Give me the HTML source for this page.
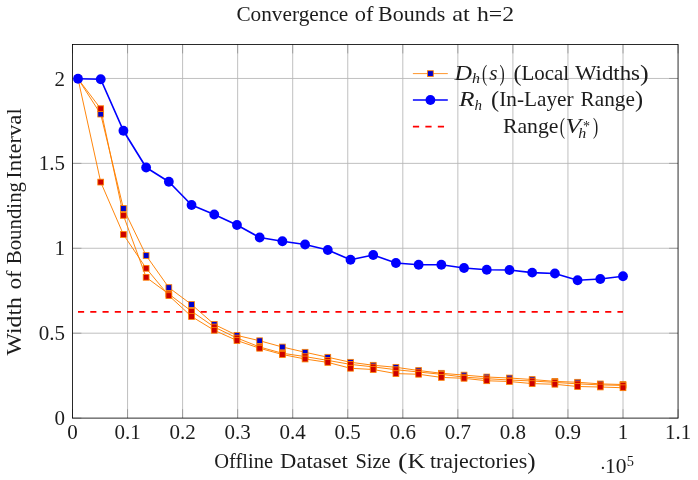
<!DOCTYPE html>
<html><head><meta charset="utf-8"><title>Convergence of Bounds at h=2</title>
<style>html,body{margin:0;padding:0;background:#fff;width:698px;height:480px;overflow:hidden;font-family:"Liberation Serif",serif}</style>
</head><body>
<svg width="698" height="480" viewBox="0 0 698 480" style="display:block;position:absolute;left:0;top:0">
<rect x="0" y="0" width="698" height="480" fill="#ffffff"/>
<path d="M127.55 44.50V418.10M182.60 44.50V418.10M237.65 44.50V418.10M292.70 44.50V418.10M347.75 44.50V418.10M402.80 44.50V418.10M457.85 44.50V418.10M512.90 44.50V418.10M567.95 44.50V418.10M623.00 44.50V418.10M72.50 333.19H678.05M72.50 248.28H678.05M72.50 163.37H678.05M72.50 78.46H678.05" stroke="#b6b6b6" stroke-width="0.86" fill="none"/>
<path d="M72.50 418.10v-8.9M72.50 44.50v8.9M127.55 418.10v-8.9M127.55 44.50v8.9M182.60 418.10v-8.9M182.60 44.50v8.9M237.65 418.10v-8.9M237.65 44.50v8.9M292.70 418.10v-8.9M292.70 44.50v8.9M347.75 418.10v-8.9M347.75 44.50v8.9M402.80 418.10v-8.9M402.80 44.50v8.9M457.85 418.10v-8.9M457.85 44.50v8.9M512.90 418.10v-8.9M512.90 44.50v8.9M567.95 418.10v-8.9M567.95 44.50v8.9M623.00 418.10v-8.9M623.00 44.50v8.9M678.05 418.10v-8.9M678.05 44.50v8.9M72.50 418.10h8.9M678.05 418.10h-8.9M72.50 333.19h8.9M678.05 333.19h-8.9M72.50 248.28h8.9M678.05 248.28h-8.9M72.50 163.37h8.9M678.05 163.37h-8.9M72.50 78.46h8.9M678.05 78.46h-8.9" stroke="#787878" stroke-width="0.55" fill="none"/>
<polyline points="78.00,78.75 100.71,114.10 123.42,208.50 146.13,255.50 168.84,287.60 191.55,304.50 214.25,324.40 236.96,335.40 259.67,340.75 282.38,347.00 305.09,352.25 327.79,357.25 350.50,362.25 373.21,365.25 395.92,367.30 418.63,370.50 441.33,373.25 464.04,375.10 486.75,377.00 509.46,378.00 532.17,379.50 554.88,381.40 577.58,382.25 600.29,383.90 623.00,384.50" fill="none" stroke="#ff8000" stroke-width="0.95" stroke-linejoin="round"/>
<polyline points="78.00,78.75 100.71,108.70 123.42,215.40 146.13,277.30 168.84,294.05 191.55,311.25 214.25,327.00 236.96,338.00 259.67,347.00 282.38,353.25 305.09,356.60 327.79,360.40 350.50,364.40 373.21,366.90 395.92,369.70 418.63,372.00 441.33,374.30 464.04,377.10 486.75,378.70 509.46,380.00 532.17,381.00 554.88,382.40 577.58,383.85 600.29,384.90 623.00,385.40" fill="none" stroke="#ff8000" stroke-width="0.95" stroke-linejoin="round"/>
<polyline points="78.00,78.75 100.71,182.10 123.42,234.50 146.13,268.30 168.84,295.60 191.55,316.50 214.25,330.30 236.96,340.50 259.67,348.25 282.38,354.50 305.09,359.00 327.79,362.40 350.50,368.25 373.21,369.50 395.92,373.60 418.63,374.25 441.33,377.40 464.04,378.30 486.75,380.75 509.46,381.50 532.17,383.60 554.88,384.25 577.58,386.50 600.29,387.00 623.00,387.75" fill="none" stroke="#ff8000" stroke-width="0.95" stroke-linejoin="round"/>
<polyline points="78.00,78.75 100.71,79.25 123.42,130.75 146.13,167.50 168.84,181.75 191.55,205.00 214.25,214.50 236.96,225.00 259.67,237.50 282.38,241.25 305.09,244.50 327.79,250.00 350.50,259.75 373.21,255.00 395.92,263.00 418.63,264.75 441.33,264.75 464.04,268.00 486.75,269.75 509.46,270.00 532.17,272.60 554.88,273.50 577.58,280.25 600.29,279.00 623.00,276.25" fill="none" stroke="#0000ff" stroke-width="1.66" stroke-linejoin="round"/>
<path d="M78.00 311.85H623.00" stroke="#ff0000" stroke-width="1.66" stroke-dasharray="6.13 6.13" fill="none"/>
<rect x="72.5" y="44.5" width="605.55" height="373.60" fill="none" stroke="#000" stroke-width="0.83"/>
<g fill="#0000cc" stroke="#ff8000" stroke-width="0.83"><rect x="75.10" y="75.85" width="5.8" height="5.8"/><rect x="97.81" y="111.20" width="5.8" height="5.8"/><rect x="120.52" y="205.60" width="5.8" height="5.8"/><rect x="143.23" y="252.60" width="5.8" height="5.8"/><rect x="165.94" y="284.70" width="5.8" height="5.8"/><rect x="188.65" y="301.60" width="5.8" height="5.8"/><rect x="211.35" y="321.50" width="5.8" height="5.8"/><rect x="234.06" y="332.50" width="5.8" height="5.8"/><rect x="256.77" y="337.85" width="5.8" height="5.8"/><rect x="279.48" y="344.10" width="5.8" height="5.8"/><rect x="302.19" y="349.35" width="5.8" height="5.8"/><rect x="324.89" y="354.35" width="5.8" height="5.8"/><rect x="347.60" y="359.35" width="5.8" height="5.8"/><rect x="370.31" y="362.35" width="5.8" height="5.8"/><rect x="393.02" y="364.40" width="5.8" height="5.8"/><rect x="415.73" y="367.60" width="5.8" height="5.8"/><rect x="438.43" y="370.35" width="5.8" height="5.8"/><rect x="461.14" y="372.20" width="5.8" height="5.8"/><rect x="483.85" y="374.10" width="5.8" height="5.8"/><rect x="506.56" y="375.10" width="5.8" height="5.8"/><rect x="529.27" y="376.60" width="5.8" height="5.8"/><rect x="551.98" y="378.50" width="5.8" height="5.8"/><rect x="574.68" y="379.35" width="5.8" height="5.8"/><rect x="597.39" y="381.00" width="5.8" height="5.8"/><rect x="620.10" y="381.60" width="5.8" height="5.8"/></g>
<g fill="#cc0000" stroke="#ff8000" stroke-width="0.83"><rect x="75.10" y="75.85" width="5.8" height="5.8"/><rect x="97.81" y="105.80" width="5.8" height="5.8"/><rect x="120.52" y="212.50" width="5.8" height="5.8"/><rect x="143.23" y="274.40" width="5.8" height="5.8"/><rect x="165.94" y="291.15" width="5.8" height="5.8"/><rect x="188.65" y="308.35" width="5.8" height="5.8"/><rect x="211.35" y="324.10" width="5.8" height="5.8"/><rect x="234.06" y="335.10" width="5.8" height="5.8"/><rect x="256.77" y="344.10" width="5.8" height="5.8"/><rect x="279.48" y="350.35" width="5.8" height="5.8"/><rect x="302.19" y="353.70" width="5.8" height="5.8"/><rect x="324.89" y="357.50" width="5.8" height="5.8"/><rect x="347.60" y="361.50" width="5.8" height="5.8"/><rect x="370.31" y="364.00" width="5.8" height="5.8"/><rect x="393.02" y="366.80" width="5.8" height="5.8"/><rect x="415.73" y="369.10" width="5.8" height="5.8"/><rect x="438.43" y="371.40" width="5.8" height="5.8"/><rect x="461.14" y="374.20" width="5.8" height="5.8"/><rect x="483.85" y="375.80" width="5.8" height="5.8"/><rect x="506.56" y="377.10" width="5.8" height="5.8"/><rect x="529.27" y="378.10" width="5.8" height="5.8"/><rect x="551.98" y="379.50" width="5.8" height="5.8"/><rect x="574.68" y="380.95" width="5.8" height="5.8"/><rect x="597.39" y="382.00" width="5.8" height="5.8"/><rect x="620.10" y="382.50" width="5.8" height="5.8"/></g>
<g fill="#cc0000" stroke="#ff8000" stroke-width="0.83"><rect x="75.10" y="75.85" width="5.8" height="5.8"/><rect x="97.81" y="179.20" width="5.8" height="5.8"/><rect x="120.52" y="231.60" width="5.8" height="5.8"/><rect x="143.23" y="265.40" width="5.8" height="5.8"/><rect x="165.94" y="292.70" width="5.8" height="5.8"/><rect x="188.65" y="313.60" width="5.8" height="5.8"/><rect x="211.35" y="327.40" width="5.8" height="5.8"/><rect x="234.06" y="337.60" width="5.8" height="5.8"/><rect x="256.77" y="345.35" width="5.8" height="5.8"/><rect x="279.48" y="351.60" width="5.8" height="5.8"/><rect x="302.19" y="356.10" width="5.8" height="5.8"/><rect x="324.89" y="359.50" width="5.8" height="5.8"/><rect x="347.60" y="365.35" width="5.8" height="5.8"/><rect x="370.31" y="366.60" width="5.8" height="5.8"/><rect x="393.02" y="370.70" width="5.8" height="5.8"/><rect x="415.73" y="371.35" width="5.8" height="5.8"/><rect x="438.43" y="374.50" width="5.8" height="5.8"/><rect x="461.14" y="375.40" width="5.8" height="5.8"/><rect x="483.85" y="377.85" width="5.8" height="5.8"/><rect x="506.56" y="378.60" width="5.8" height="5.8"/><rect x="529.27" y="380.70" width="5.8" height="5.8"/><rect x="551.98" y="381.35" width="5.8" height="5.8"/><rect x="574.68" y="383.60" width="5.8" height="5.8"/><rect x="597.39" y="384.10" width="5.8" height="5.8"/><rect x="620.10" y="384.85" width="5.8" height="5.8"/></g>
<g fill="#0000ff"><circle cx="78.00" cy="78.75" r="4.9"/><circle cx="100.71" cy="79.25" r="4.9"/><circle cx="123.42" cy="130.75" r="4.9"/><circle cx="146.13" cy="167.50" r="4.9"/><circle cx="168.84" cy="181.75" r="4.9"/><circle cx="191.55" cy="205.00" r="4.9"/><circle cx="214.25" cy="214.50" r="4.9"/><circle cx="236.96" cy="225.00" r="4.9"/><circle cx="259.67" cy="237.50" r="4.9"/><circle cx="282.38" cy="241.25" r="4.9"/><circle cx="305.09" cy="244.50" r="4.9"/><circle cx="327.79" cy="250.00" r="4.9"/><circle cx="350.50" cy="259.75" r="4.9"/><circle cx="373.21" cy="255.00" r="4.9"/><circle cx="395.92" cy="263.00" r="4.9"/><circle cx="418.63" cy="264.75" r="4.9"/><circle cx="441.33" cy="264.75" r="4.9"/><circle cx="464.04" cy="268.00" r="4.9"/><circle cx="486.75" cy="269.75" r="4.9"/><circle cx="509.46" cy="270.00" r="4.9"/><circle cx="532.17" cy="272.60" r="4.9"/><circle cx="554.88" cy="273.50" r="4.9"/><circle cx="577.58" cy="280.25" r="4.9"/><circle cx="600.29" cy="279.00" r="4.9"/><circle cx="623.00" cy="276.25" r="4.9"/></g>
<path d="M412.9 73.6H447.8" stroke="#ff8000" stroke-width="0.83"/>
<rect x="427.50" y="70.70" width="5.8" height="5.8" fill="#0000cc" stroke="#ff8000" stroke-width="0.83"/>
<path d="M412.9 100H447.8" stroke="#0000ff" stroke-width="1.66"/>
<circle cx="430.4" cy="100" r="4.9" fill="#0000ff"/>
<path d="M412.9 126.7H447.8" stroke="#ff0000" stroke-width="1.66" stroke-dasharray="6.23 6.23"/>
<g font-family="'Liberation Serif', serif" fill="#1c1c1c" opacity="0.999">
<text x="236.4" y="21.4" font-size="21" textLength="111.9" lengthAdjust="spacingAndGlyphs">Convergence</text>
<text x="354.8" y="21.4" font-size="21" textLength="18.7" lengthAdjust="spacingAndGlyphs">of</text>
<text x="378.1" y="21.4" font-size="21" textLength="67.2" lengthAdjust="spacingAndGlyphs">Bounds</text>
<text x="452.2" y="21.4" font-size="21" textLength="17.6" lengthAdjust="spacingAndGlyphs">at</text>
<text x="477.0" y="21.4" font-size="21" textLength="37.1" lengthAdjust="spacingAndGlyphs">h=2</text>
<text x="214.3" y="467.8" font-size="21" textLength="58.8" lengthAdjust="spacingAndGlyphs">Offline</text>
<text x="280.1" y="467.8" font-size="21" textLength="67.7" lengthAdjust="spacingAndGlyphs">Dataset</text>
<text x="355.4" y="467.8" font-size="21" textLength="35.1" lengthAdjust="spacingAndGlyphs">Size</text>
<text x="398.1" y="467.8" font-size="21" textLength="27.1" lengthAdjust="spacingAndGlyphs"><tspan font-size="24" dy="1">(</tspan><tspan dy="-1">K</tspan></text>
<text x="429.9" y="467.8" font-size="21" textLength="105.6" lengthAdjust="spacingAndGlyphs">trajectories<tspan font-size="24" dy="1">)</tspan></text>
<text transform="translate(21.3,355.5) rotate(-90)" font-size="21" textLength="58.5" lengthAdjust="spacingAndGlyphs">Width</text>
<text transform="translate(21.3,289.2) rotate(-90)" font-size="21" textLength="18.8" lengthAdjust="spacingAndGlyphs">of</text>
<text transform="translate(21.3,264.2) rotate(-90)" font-size="21" textLength="82.2" lengthAdjust="spacingAndGlyphs">Bounding</text>
<text transform="translate(21.3,178.7) rotate(-90)" font-size="21" textLength="70.4" lengthAdjust="spacingAndGlyphs">Interval</text>
<text x="65.0" y="425.1" font-size="21" text-anchor="end">0</text>
<text x="65.0" y="340.2" font-size="21" text-anchor="end">0.5</text>
<text x="65.0" y="255.3" font-size="21" text-anchor="end">1</text>
<text x="65.0" y="170.4" font-size="21" text-anchor="end">1.5</text>
<text x="65.0" y="85.5" font-size="21" text-anchor="end">2</text>
<text x="72.5" y="439.3" font-size="21" text-anchor="middle">0</text>
<text x="127.5" y="439.3" font-size="21" text-anchor="middle">0.1</text>
<text x="182.6" y="439.3" font-size="21" text-anchor="middle">0.2</text>
<text x="237.6" y="439.3" font-size="21" text-anchor="middle">0.3</text>
<text x="292.7" y="439.3" font-size="21" text-anchor="middle">0.4</text>
<text x="347.7" y="439.3" font-size="21" text-anchor="middle">0.5</text>
<text x="402.8" y="439.3" font-size="21" text-anchor="middle">0.6</text>
<text x="457.8" y="439.3" font-size="21" text-anchor="middle">0.7</text>
<text x="512.9" y="439.3" font-size="21" text-anchor="middle">0.8</text>
<text x="567.9" y="439.3" font-size="21" text-anchor="middle">0.9</text>
<text x="623.0" y="439.3" font-size="21" text-anchor="middle">1</text>
<text x="678.0" y="439.3" font-size="21" text-anchor="middle">1.1</text>
<circle cx="602.9" cy="467.9" r="1.15"/>
<text x="605.0" y="473.4" font-size="21" textLength="21.5" lengthAdjust="spacingAndGlyphs">10</text>
<text x="626.8" y="465.6" font-size="14.5" textLength="7.2" lengthAdjust="spacingAndGlyphs">5</text>
<text x="454.5" y="79.6" font-size="21" font-style="italic" textLength="17.5" lengthAdjust="spacingAndGlyphs">D</text>
<text x="472.0" y="83.2" font-size="14.5" font-style="italic" textLength="8.0" lengthAdjust="spacingAndGlyphs">h</text>
<text x="482.0" y="80.6" font-size="24" textLength="5.2" lengthAdjust="spacingAndGlyphs">(</text>
<text x="489.2" y="79.6" font-size="21" font-style="italic" textLength="8.3" lengthAdjust="spacingAndGlyphs">s</text>
<text x="499.6" y="80.6" font-size="24" textLength="5.2" lengthAdjust="spacingAndGlyphs">)</text>
<text x="513.6" y="79.6" font-size="21" textLength="55.6" lengthAdjust="spacingAndGlyphs"><tspan font-size="24" dy="1">(</tspan><tspan dy="-1">Local</tspan></text>
<text x="574.9" y="79.6" font-size="21" textLength="73.8" lengthAdjust="spacingAndGlyphs">Widths<tspan font-size="24" dy="1">)</tspan></text>
<text x="459.0" y="106.2" font-size="21" font-style="italic" textLength="15.5" lengthAdjust="spacingAndGlyphs">R</text>
<text x="474.4" y="109.8" font-size="14.5" font-style="italic" textLength="7.5" lengthAdjust="spacingAndGlyphs">h</text>
<text x="491.1" y="106.2" font-size="21" textLength="82.5" lengthAdjust="spacingAndGlyphs"><tspan font-size="24" dy="1">(</tspan><tspan dy="-1">In-Layer</tspan></text>
<text x="580.6" y="106.2" font-size="21" textLength="62.4" lengthAdjust="spacingAndGlyphs">Range<tspan font-size="24" dy="1">)</tspan></text>
<text x="502.9" y="132.8" font-size="21" textLength="55.6" lengthAdjust="spacingAndGlyphs">Range</text>
<text x="559.7" y="133.8" font-size="24" textLength="5.2" lengthAdjust="spacingAndGlyphs">(</text>
<text x="565.5" y="132.8" font-size="21" font-style="italic" textLength="15.5" lengthAdjust="spacingAndGlyphs">V</text>
<text x="583.0" y="130.8" font-size="14.5" textLength="7.0" lengthAdjust="spacingAndGlyphs">*</text>
<text x="578.3" y="138.2" font-size="14.5" font-style="italic" textLength="8.0" lengthAdjust="spacingAndGlyphs">h</text>
<text x="593.0" y="133.8" font-size="24" textLength="5.2" lengthAdjust="spacingAndGlyphs">)</text>
</g>
</svg>
</body></html>
